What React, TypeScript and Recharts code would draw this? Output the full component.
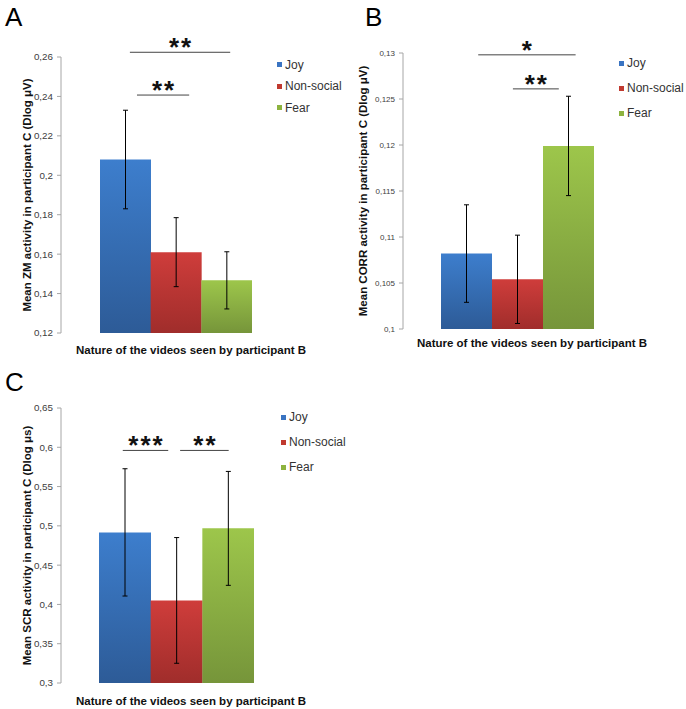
import React from "react";
import {
  BarChart,
  Bar,
  XAxis,
  YAxis,
  Cell,
  ErrorBar,
  Legend,
  ReferenceLine,
} from "recharts";

const categories = ["Joy", "Non-social", "Fear"];
const gradTop = ["#3d7ecd", "#cf3d3b", "#9dc64b"];
const gradBottom = ["#2d5b97", "#a02d2b", "#76953a"];
const legendColors = ["#3a74c2", "#c0392f", "#8db33f"];

// Panel A – zygomaticus
const zmMeans = [0.208, 0.161, 0.1467];
const zmErrors = [0.025, 0.0175, 0.0145];
const zmTicks = [0.12, 0.14, 0.16, 0.18, 0.2, 0.22, 0.24, 0.26];

// Panel B – corrugator
const corrMeans = [0.1082, 0.1054, 0.1199];
const corrErrors = [0.0053, 0.0048, 0.0054];
const corrTicks = [0.1, 0.105, 0.11, 0.115, 0.12, 0.125, 0.13];

// Panel C – skin conductance
const scrMeans = [0.4917, 0.4051, 0.4968];
const scrErrors = [0.081, 0.08, 0.0725];
const scrTicks = [0.3, 0.35, 0.4, 0.45, 0.5, 0.55, 0.6, 0.65];

// significance brackets, x in bar units (0 = left of Joy, 3 = right of Fear)
const zmSig = [
  { from: 0.59, to: 2.57, y: 0.2624, stars: "**" },
  { from: 0.73, to: 1.76, y: 0.2407, stars: "**" },
];
const corrSig = [
  { from: 0.73, to: 2.64, y: 0.1298, stars: "*" },
  { from: 1.41, to: 2.31, y: 0.1261, stars: "**" },
];
const scrSig = [
  { from: 0.46, to: 1.34, y: 0.596, stars: "***" },
  { from: 1.57, to: 2.51, y: 0.596, stars: "**" },
];

const FONT = "'Liberation Sans', Arial, sans-serif";

function SigLabel(props: any) {
  const vb = props.viewBox || { x: 0, y: 0, width: 0 };
  return (
    <text
      x={vb.x + vb.width / 2 + 1}
      y={vb.y + 4}
      textAnchor="middle"
      fontSize={26}
      fontWeight="bold"
      letterSpacing={2}
      fontFamily={FONT}
      fill="#111"
    >
      {props.stars}
    </text>
  );
}

function YTitle(props: any) {
  const vb = props.viewBox || { x: 0, y: 0, height: 0 };
  const cx = props.cx;
  const cy = vb.y + vb.height / 2;
  return (
    <text
      x={cx}
      y={cy}
      transform={`rotate(-90, ${cx}, ${cy})`}
      textAnchor="middle"
      dominantBaseline="central"
      fontSize={11.5}
      fontWeight="bold"
      fontFamily={FONT}
      fill="#111"
    >
      {props.text}
    </text>
  );
}

function XTitle(props: any) {
  const vb = props.viewBox || { x: 0, y: 0, width: 0 };
  return (
    <text
      x={vb.x + vb.width / 2 + props.dx}
      y={vb.y + props.dy}
      textAnchor="middle"
      fontSize={11.5}
      fontWeight="bold"
      fontFamily={FONT}
      fill="#111"
    >
      Nature of the videos seen by participant B
    </text>
  );
}

function PanelLegend({ width, rowHeight, padLeft }: any) {
  return (
    <div style={{ width, paddingLeft: padLeft, boxSizing: "border-box" }}>
      {categories.map((c, i) => (
        <div
          key={c}
          style={{
            height: rowHeight,
            display: "flex",
            alignItems: "center",
            whiteSpace: "nowrap",
            fontFamily: FONT,
            fontSize: 12,
            color: "#333",
          }}
        >
          <span
            style={{
              width: 5,
              height: 5,
              background: legendColors[i],
              marginRight: 3,
              flex: "none",
            }}
          />
          {c}
        </div>
      ))}
    </div>
  );
}

function Panel(p: any) {
  // bars sit on a numeric axis, one unit per bar, so brackets share its scale
  const data = categories.map((name, i) => ({
    name,
    pos: i + 0.5,
    value: p.means[i],
    err: p.errors[i],
  }));
  const domain = [p.ticks[0], p.ticks[p.ticks.length - 1]];
  return (
    <div style={{ position: "absolute", left: p.left, top: p.top }}>
      <BarChart
        width={p.width}
        height={p.height}
        data={data}
        margin={{ top: p.marginTop, right: 0, bottom: 0, left: 0 }}
        barCategoryGap={0}
        barGap={0}
      >
        <defs>
          {categories.map((c, i) => (
            <linearGradient key={c} id={`${p.id}-g${i}`} x1="0" y1="0" x2="0" y2="1">
              <stop offset="0%" stopColor={gradTop[i]} />
              <stop offset="100%" stopColor={gradBottom[i]} />
            </linearGradient>
          ))}
        </defs>
        <XAxis
          dataKey="pos"
          type="number"
          domain={[0, 3]}
          allowDataOverflow
          ticks={data.map((d) => d.pos)}
          axisLine={false}
          tickLine={false}
          tick={false}
          height={p.xAxisHeight}
          padding={{ left: p.padL, right: p.padR }}
          label={<XTitle dx={p.xTitleDx} dy={p.xTitleDy} />}
        />
        <YAxis
          domain={domain}
          ticks={p.ticks}
          interval={0}
          allowDataOverflow
          width={p.yAxisWidth}
          stroke="#a6a6a6"
          tickSize={4}
          tickMargin={4}
          tick={{ fontSize: p.tickFont, fill: "#404040", fontFamily: FONT }}
          tickFormatter={(v: number) => String(v).replace(".", ",")}
          label={<YTitle cx={p.yTitleX} text={p.yTitle} />}
        />
        <Legend
          layout="vertical"
          align="right"
          verticalAlign="top"
          wrapperStyle={{ top: p.legendTop, right: 0 }}
          content={() => (
            <PanelLegend
              width={p.legendWidth}
              rowHeight={p.legendRow}
              padLeft={p.legendPad}
            />
          )}
        />
        <Bar dataKey="value" isAnimationActive={false}>
          {data.map((d, i) => (
            <Cell key={d.name} fill={`url(#${p.id}-g${i})`} />
          ))}
          <ErrorBar
            dataKey="err"
            width={2.5}
            stroke="#000"
            strokeWidth={1}
            isAnimationActive={false}
          />
        </Bar>
        {p.sig.map((s: any, i: number) => (
          <ReferenceLine
            key={i}
            ifOverflow="visible"
            segment={[
              { x: s.from, y: s.y },
              { x: s.to, y: s.y },
            ]}
            stroke="#444"
            strokeWidth={1}
            label={<SigLabel stars={s.stars} />}
          />
        ))}
      </BarChart>
    </div>
  );
}

const letterStyle: React.CSSProperties = {
  position: "absolute",
  fontFamily: FONT,
  fontSize: 26,
  lineHeight: "26px",
  color: "#000",
};

export default function App() {
  return (
    <div
      style={{
        position: "absolute",
        left: 0,
        top: 0,
        width: 686,
        height: 709,
        background: "#fff",
        overflow: "hidden",
      }}
    >
      <Panel
        id="a"
        left={0}
        top={0}
        width={340}
        height={360}
        marginTop={57}
        yAxisWidth={61}
        xAxisHeight={27}
        padL={39}
        padR={25}
        means={zmMeans}
        errors={zmErrors}
        ticks={zmTicks}
        tickFont={9.8}
        yTitle="Mean ZM activity in participant C (Dlog μV)"
        yTitleX={27}
        xTitleDx={22}
        xTitleDy={21}
        legendWidth={63}
        legendTop={54}
        legendRow={21.5}
        legendPad={0}
        sig={zmSig}
      />
      <Panel
        id="b"
        left={340}
        top={0}
        width={346}
        height={360}
        marginTop={53}
        yAxisWidth={63}
        xAxisHeight={31}
        padL={38}
        padR={23}
        means={corrMeans}
        errors={corrErrors}
        ticks={corrTicks}
        tickFont={8}
        yTitle="Mean CORR activity in participant C (Dlog μV)"
        yTitleX={23}
        xTitleDx={22}
        xTitleDy={18}
        legendWidth={69}
        legendTop={50.5}
        legendRow={25}
        legendPad={2}
        sig={corrSig}
      />
      <Panel
        id="c"
        left={0}
        top={360}
        width={340}
        height={349}
        marginTop={48}
        yAxisWidth={61}
        xAxisHeight={26}
        padL={38}
        padR={23}
        means={scrMeans}
        errors={scrErrors}
        ticks={scrTicks}
        tickFont={9.8}
        yTitle="Mean SCR activity in participant C (Dlog μs)"
        yTitleX={27}
        xTitleDx={22}
        xTitleDy={22}
        legendWidth={63}
        legendTop={44.5}
        legendRow={25}
        legendPad={4}
        sig={scrSig}
      />
      <div style={{ ...letterStyle, left: 5, top: 4 }}>A</div>
      <div style={{ ...letterStyle, left: 365, top: 4 }}>B</div>
      <div style={{ ...letterStyle, left: 5, top: 369 }}>C</div>
    </div>
  );
}
